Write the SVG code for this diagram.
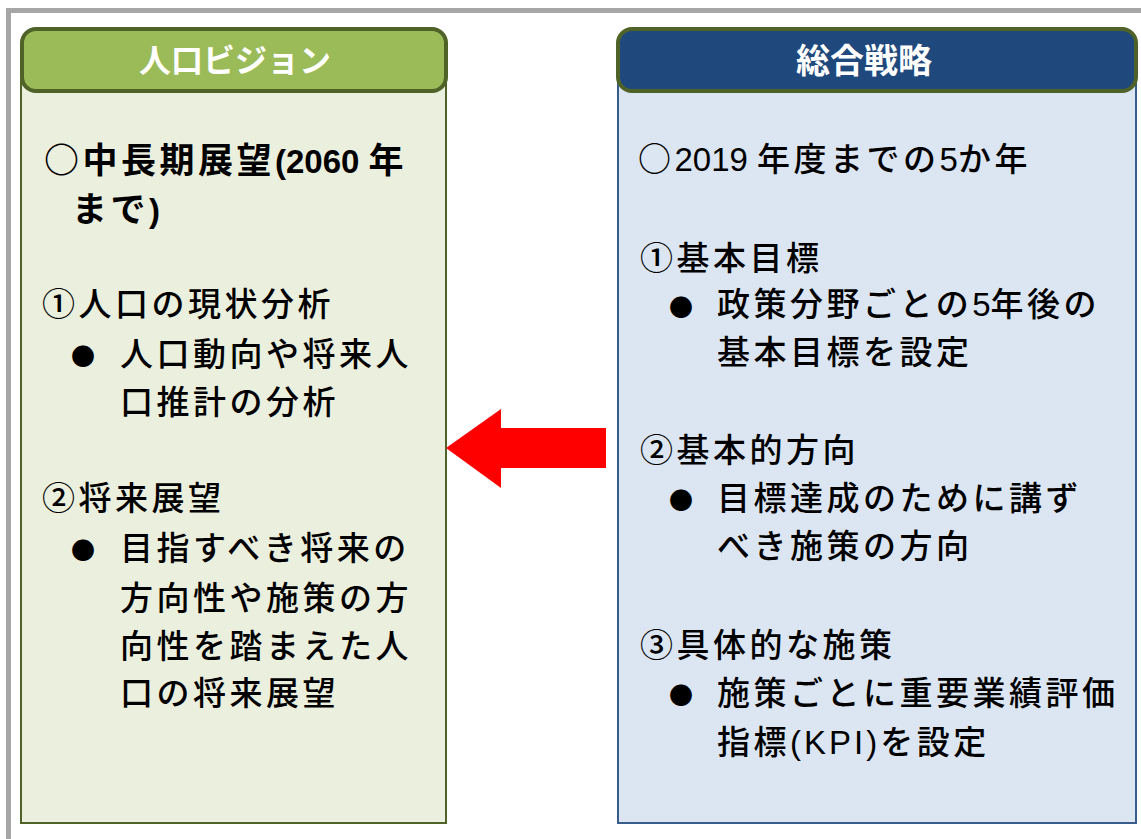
<svg xmlns="http://www.w3.org/2000/svg" width="1141" height="839" viewBox="0 0 1141 839">
<style>
text{font-family:"Noto Sans CJK JP","Noto Sans CJK SC",sans-serif;fill:#000}
.t{font-size:33px;letter-spacing:3.5px;font-weight:500}
.h{font-size:32px;font-weight:bold;fill:#fff;text-anchor:middle}
.b{font-size:24px}
.bold{font-weight:bold;font-size:35px}
.l{font-family:"Liberation Sans",Arial,sans-serif;letter-spacing:0}
</style>
<rect width="1141" height="839" fill="#fff"/>
<g id="frame">
<line x1="8.5" y1="10.5" x2="1141" y2="10.5" stroke="#A6A6A6" stroke-width="5"/>
<line x1="8.5" y1="8" x2="8.5" y2="839" stroke="#A6A6A6" stroke-width="5"/>
</g>
<g id="jinko">
<rect x="21" y="80" width="425" height="743" fill="#EBEFDE" stroke="#4F6228" stroke-width="2"/>
<rect x="22" y="29" width="424" height="62" rx="14" fill="#9BBB59" stroke="#4F6228" stroke-width="4"/>
<text class="h" x="235" y="72">人口ビジョン</text>
<text class="t bold" x="44" y="173">○中長期展望<tspan class="l" style="font-size:33px">(2060 </tspan>年</text>
<text class="t bold" x="72" y="222">まで<tspan class="l" style="font-size:33px">)</tspan></text>
<text class="t" x="42" y="316">①人口の現状分析</text>
<text class="b" x="71" y="365">●</text>
<text class="t" x="120" y="366">人口動向や将来人</text>
<text class="t" x="120" y="414">口推計の分析</text>
<text class="t" x="42" y="510">②将来展望</text>
<text class="b" x="71" y="559">●</text>
<text class="t" x="120" y="560">目指すべき将来の</text>
<text class="t" x="120" y="610">方向性や施策の方</text>
<text class="t" x="120" y="658">向性を踏まえた人</text>
<text class="t" x="120" y="705">口の将来展望</text>
</g>
<g id="senryaku">
<rect x="618" y="80" width="518" height="743" fill="#DCE6F2" stroke="#385D8A" stroke-width="2"/>
<rect x="618" y="29" width="518" height="62" rx="14" fill="#1F497D" stroke="#4F6228" stroke-width="4"/>
<text class="h" x="864" y="73" style="font-size:34px">総合戦略</text>
<text class="t" x="638" y="171">○<tspan class="l">2019 </tspan>年度までの<tspan class="l">5</tspan>か年</text>
<text class="t" x="640" y="270">①基本目標</text>
<text class="b" x="669" y="316">●</text>
<text class="t" x="717" y="316">政策分野ごとの<tspan class="l">5</tspan>年後の</text>
<text class="t" x="717" y="364">基本目標を設定</text>
<text class="t" x="640" y="462">②基本的方向</text>
<text class="b" x="669" y="509">●</text>
<text class="t" x="717" y="510">目標達成のために講ず</text>
<text class="t" x="717" y="558">べき施策の方向</text>
<text class="t" x="640" y="657">③具体的な施策</text>
<text class="b" x="669" y="704">●</text>
<text class="t" x="717" y="705">施策ごとに重要業績評価</text>
<text class="t" x="717" y="754">指標<tspan class="l" style="letter-spacing:3px">(KPI)</tspan>を設定</text>
</g>
<g id="connectors">
<polygon points="446,448 501,409 501,428 606,428 606,468 501,468 501,488" fill="#FF0000"/>
</g>
</svg>
